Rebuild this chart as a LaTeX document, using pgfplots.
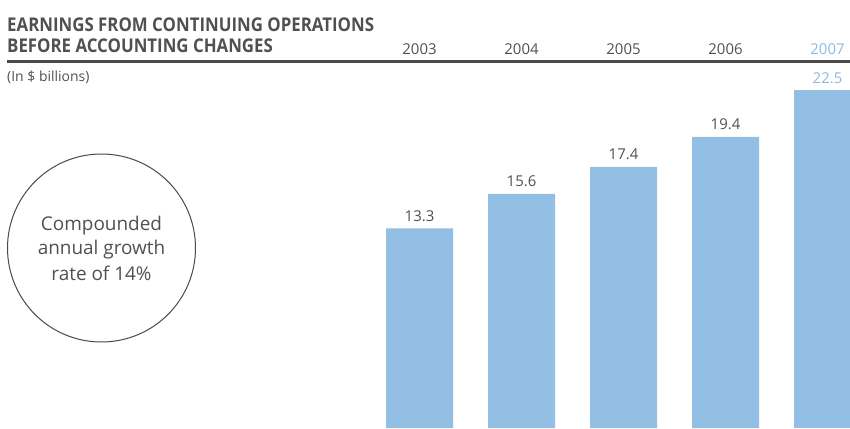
\documentclass[border=0pt]{standalone}
\usepackage{graphicx}
\usepackage{pgfplots}
\pgfplotsset{compat=1.18}
\usepackage{fontspec}
\setmainfont{Open Sans}

\definecolor{barblue}{HTML}{94BFE4}
\definecolor{hiblue}{HTML}{8DB9E2}
\definecolor{txtgray}{HTML}{505050}
\definecolor{rulegray}{HTML}{4A4A4A}

\begin{document}
\begin{tikzpicture}[x=1bp,y=1bp]
  \useasboundingbox (0,0) rectangle (850,428);
  % title block (1 unit = 1 px of the reference, origin at bottom left)
  \node[anchor=base west, inner sep=0, text=txtgray,
        font=\fontsize{19}{20}\selectfont\bfseries] at (7,396) {\scalebox{0.89}[1]{EARNINGS FROM CONTINUING OPERATIONS}};
  \node[anchor=base west, inner sep=0, text=txtgray,
        font=\fontsize{19}{20}\selectfont\bfseries] at (7,376) {\scalebox{0.89}[1]{BEFORE ACCOUNTING CHANGES}};
  \draw[rulegray, line width=2.6bp] (7,366.5) -- (850,366.5);
  \node[anchor=base west, inner sep=0, text=txtgray,
        font=\fontsize{14}{16}\selectfont] at (7,347) {(In \$ billions)};

  \begin{axis}[
      at={(0,0)}, anchor=south west,
      scale only axis, width=850bp, height=428bp,
      xmin=-4.1127, xmax=4.2206, ymin=0, ymax=28.5333,
      hide axis, clip=true,
      ybar, bar width=0.6569,
      nodes near coords,
      nodes near coords style={font=\fontsize{15}{16}\selectfont,
        anchor=south, inner xsep=0pt, inner ysep=7bp,
        /pgf/number format/fixed, /pgf/number format/fixed zerofill,
        /pgf/number format/precision=1, /pgf/number format/assume math mode=true},
    ]
    \addplot[fill=barblue, draw=none, bar shift=0pt,
             nodes near coords style={text=txtgray}]
      coordinates {(0,13.3) (1,15.6) (2,17.4) (3,19.4)};
    \addplot[fill=barblue, draw=none, bar shift=0pt,
             nodes near coords style={text=hiblue}]
      coordinates {(4,22.5)};
    % year labels above the rule
    \node[anchor=base, text=txtgray, font=\fontsize{15}{16}\selectfont] at (axis cs:0,24.93) {2003};
    \node[anchor=base, text=txtgray, font=\fontsize{15}{16}\selectfont] at (axis cs:1,24.93) {2004};
    \node[anchor=base, text=txtgray, font=\fontsize{15}{16}\selectfont] at (axis cs:2,24.93) {2005};
    \node[anchor=base, text=txtgray, font=\fontsize{15}{16}\selectfont] at (axis cs:3,24.93) {2006};
    \node[anchor=base, text=hiblue, font=\fontsize{15}{16}\selectfont] at (axis cs:4,24.93) {2007};
  \end{axis}

  % growth circle
  \draw[rulegray, line width=1bp] (101.5,180) circle (94);
  \node[anchor=base, text=txtgray, font=\fontsize{19}{25}\selectfont] at (101.5,198) {Compounded};
  \node[anchor=base, text=txtgray, font=\fontsize{19}{25}\selectfont] at (101.5,174) {annual growth};
  \node[anchor=base, text=txtgray, font=\fontsize{19}{25}\selectfont] at (101.5,148) {rate of 14\%};
\end{tikzpicture}
\end{document}
